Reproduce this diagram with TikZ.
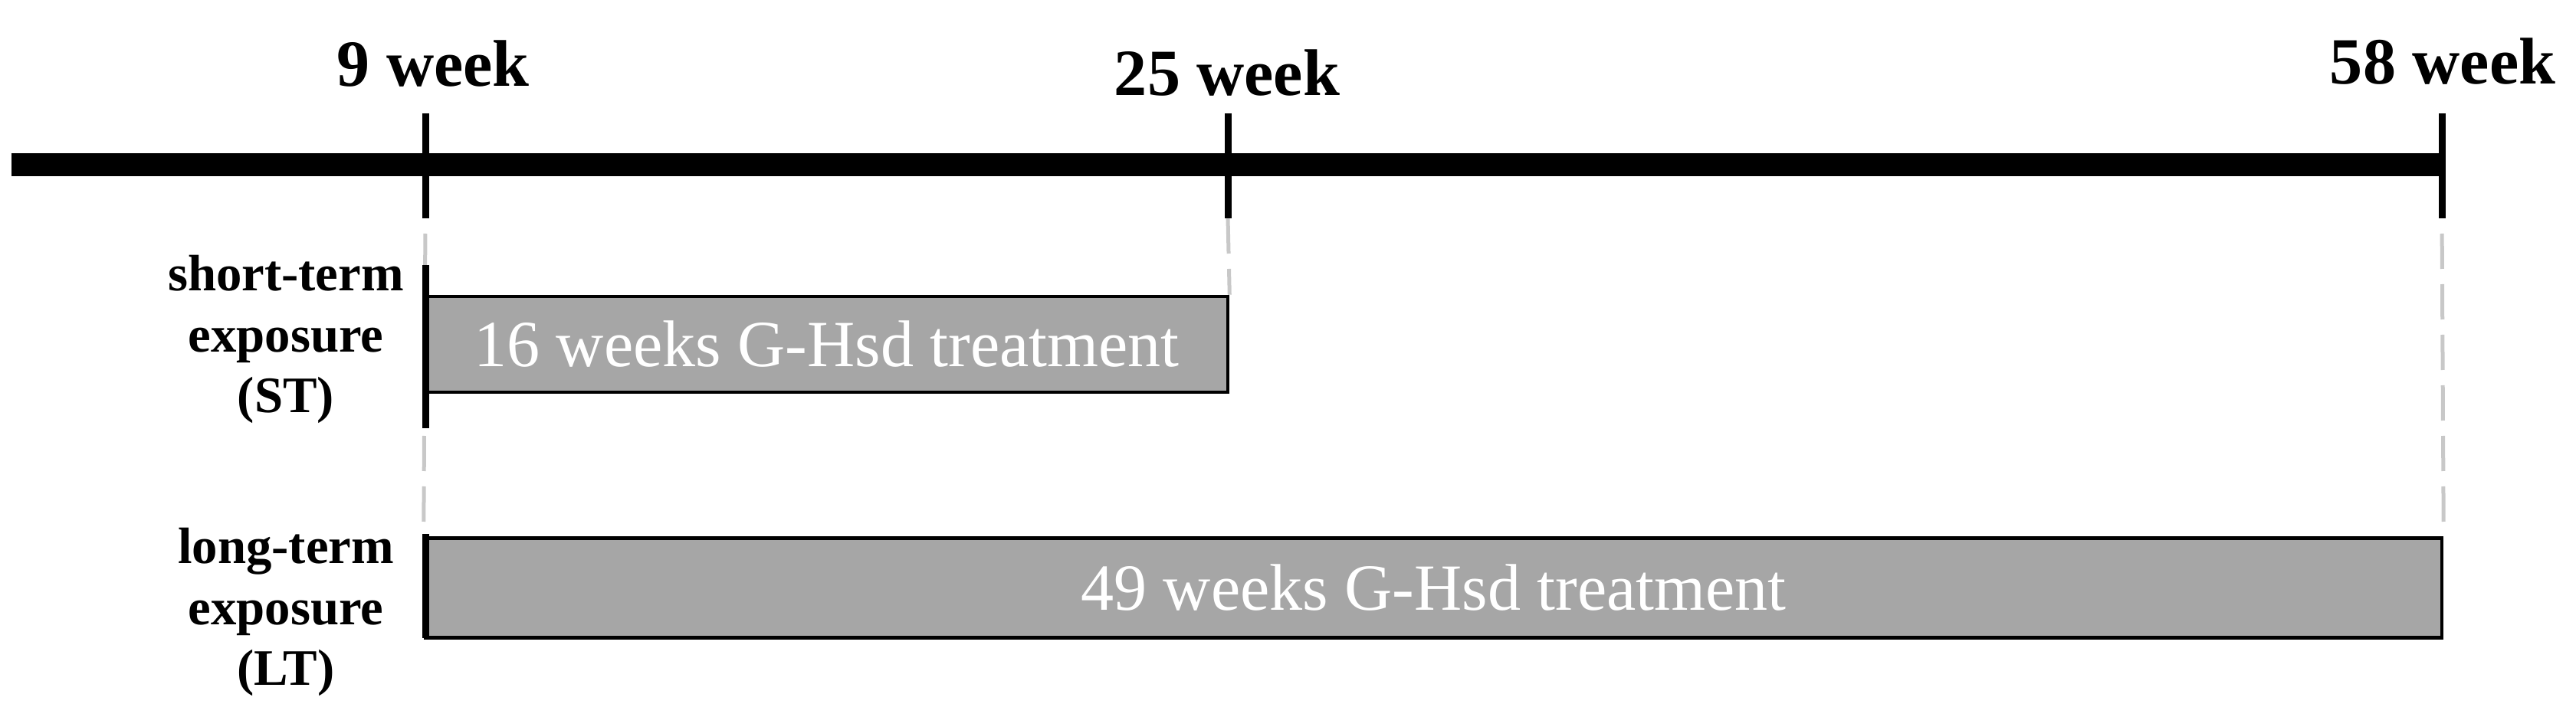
\documentclass[tikz,border=0pt]{standalone}
\usepackage{fontspec}
\setmainfont{Liberation Serif}
\definecolor{bargray}{RGB}{166,166,166}
\definecolor{guidegray}{RGB}{200,200,200}

\begin{document}
\begin{tikzpicture}[
    axis/.style={line width=0.30cm},
    tick/.style={line width=0.09cm},
    guide/.style={draw=guidegray, line width=0.05cm,
      dash pattern=on 0.46cm off 0.2cm, dash phase=0.46cm},
    bar/.style={draw, fill=bargray, line width=0.045cm, inner sep=0pt,
      text=white, font=\fontsize{24.5}{29}\selectfont},
    week/.style={font=\bfseries\fontsize{24.5}{29}\selectfont,
      anchor=base, inner sep=0pt},
    group/.style={font=\bfseries\fontsize{19}{22.5}\selectfont,
      align=center, inner sep=0pt}
    ]
    \useasboundingbox (0,0) rectangle (33.61,9.35);

    % Time axis
    \coordinate (a0) at (0.15,7.20);
    \coordinate (a1) at (31.87,7.20);
    \draw[axis] (a0) -- (a1);

    \foreach \name/\x in {t9/5.55, t25/16.02, t58/31.86}
        {\coordinate (\name-top) at (\x,7.87);
         \coordinate (\name-bot) at (\x,6.50);
        }

    \node[week] (w9) at (5.65,8.22) {9 week};
    \node[week] (w25) at (16.01,8.10) {25 week};
    \node[week] (w58) at (31.87,8.25) {58 week};

    % Treatment bars
    \node[bar, minimum width=10.47cm, minimum height=1.25cm] (st)
        at (10.785,4.855) {16 weeks G-Hsd treatment};
    \node[bar, minimum width=26.31cm, minimum height=1.30cm] (lt)
        at (18.705,1.675) {49 weeks G-Hsd treatment};

    \node[group] (stl) at (3.73,4.92) {short-term\\exposure\\(ST)};
    \node[group] (ltl) at (3.73,1.36) {long-term\\exposure\\(LT)};

    % Guides
    \draw[guide] (t9-bot) -- (lt.north west);
    \draw[guide, dash phase=0cm] (t25-bot) -- (st.north east);
    \draw[guide] (t58-bot) -- (lt.north east);

    % Ticks
    \foreach \name in {t9,t25,t58}
        \draw[tick] (\name-top) -- (\name-bot);

    \coordinate (sb-top) at (5.55,5.89);
    \coordinate (sb-bot) at (5.55,3.76);
    \coordinate (lb-top) at (5.55,2.38);
    \coordinate (lb-bot) at (5.55,1.02);
    \draw[tick] (sb-top) -- (sb-bot);
    \draw[tick] (lb-top) -- (lb-bot);
\end{tikzpicture}
\end{document}
